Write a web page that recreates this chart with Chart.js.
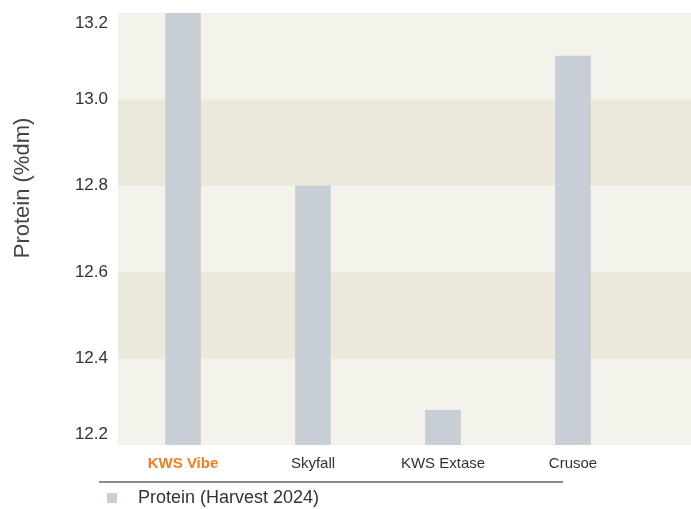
<!DOCTYPE html>
<html>
<head>
<meta charset="utf-8">
<script src="https://cdn.jsdelivr.net/npm/chart.js@4/dist/chart.umd.min.js"></script>
<style>
  html, body { margin: 0; padding: 0; background: #fff; }
  #wrap { width: 691px; height: 509px; }
</style>
</head>
<body>
<div id="wrap"><canvas id="myChart" width="691" height="509"></canvas></div>
<script>
var varieties = ['KWS Vibe', 'Skyfall', 'KWS Extase', 'Crusoe'];
var protein = [13.2, 12.8, 12.28, 13.1];
var yTicks = [12.2, 12.4, 12.6, 12.8, 13.0, 13.2];
var seriesName = 'Protein (Harvest 2024)';
var axisTitle = 'Protein (%dm)';

var barColor = '#c7ced6';
var fontName = '"Liberation Sans", Arial, sans-serif';

// striped plot background, running to the right edge of the canvas
var bands = {
  id: 'bands',
  beforeDatasetsDraw: function(chart) {
    var c = chart.ctx, area = chart.chartArea, y = chart.scales.y;
    c.save();
    c.fillStyle = '#f4f3eb';
    c.fillRect(area.left, area.top, chart.width - area.left, area.bottom - area.top);
    c.fillStyle = '#ebe8dc';
    for (var i = 1; i < yTicks.length - 1; i += 2) {
      var top = y.getPixelForValue(yTicks[i + 1]);
      var bot = y.getPixelForValue(yTicks[i]);
      c.fillRect(area.left, top, chart.width - area.left, bot - top);
    }
    c.restore();
  },
  afterDraw: function(chart) {
    var c = chart.ctx;
    c.save();
    // rule under the category labels
    c.strokeStyle = '#8c8c8c';
    c.lineWidth = 2;
    c.beginPath();
    c.moveTo(99, 482);
    c.lineTo(563, 482);
    c.stroke();
    // legend
    c.fillStyle = barColor;
    c.fillRect(107, 493, 10, 10);
    c.fillStyle = '#333';
    c.font = '18px ' + fontName;
    c.textBaseline = 'middle';
    c.fillText(chart.data.datasets[0].label, 138, 498);
    // y axis title
    c.font = '22px ' + fontName;
    c.fillStyle = '#444';
    c.textAlign = 'center';
    c.translate(23, 188);
    c.rotate(-Math.PI / 2);
    c.fillText(axisTitle, 0, 0);
    c.restore();
  }
};

var ctx = document.getElementById('myChart').getContext('2d');
var chart = new Chart(ctx, {
  type: 'bar',
  data: {
    labels: varieties,
    datasets: [{
      label: seriesName,
      data: protein,
      backgroundColor: barColor,
      borderWidth: 0,
      barThickness: 35
    }]
  },
  options: {
    responsive: false,
    animation: false,
    layout: { padding: { top: 13, right: 53, left: 0, bottom: 0 } },
    plugins: {
      legend: { display: false },
      tooltip: { enabled: false }
    },
    scales: {
      x: {
        grid: { display: false, drawTicks: false },
        border: { display: false },
        ticks: {
          padding: 10,
          font: function(c) {
            return c.index === 0 ? { size: 15, weight: 'bold', family: fontName } : { size: 15, family: fontName };
          },
          color: function(c) { return c.index === 0 ? '#f47b20' : '#333'; }
        },
        afterFit: function(s) { s.height = 64; }
      },
      y: {
        min: 12.2,
        max: 13.2,
        afterBuildTicks: function(s) {
          s.ticks = yTicks.map(function(v) { return { value: v }; });
        },
        grid: { display: false, drawTicks: false },
        border: { display: false },
        ticks: {
          padding: 10,
          color: '#333',
          font: { size: 17, family: fontName },
          // end labels sit inside the plot, like the original
          callback: function(v, i, all) {
            var t = v.toFixed(1);
            if (i === 0) return [t, ''];
            if (i === all.length - 1) return ['', t];
            return t;
          }
        },
        afterFit: function(s) {
          s.width = 118;
          s.paddingTop = 0;
          s.paddingBottom = 0;
        }
      }
    }
  },
  plugins: [bands]
});
</script>
</body>
</html>
